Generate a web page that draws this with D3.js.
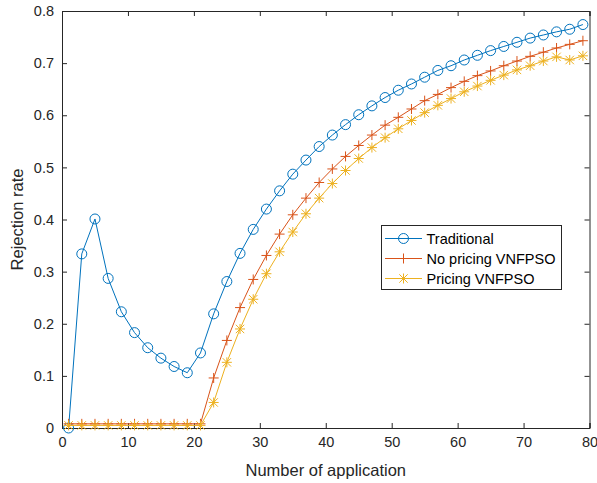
<!DOCTYPE html>
<html><head><meta charset="utf-8">
<script src="https://cdn.jsdelivr.net/npm/d3@7"></script>
<style>body{margin:0;background:#fff;} svg{display:block;}</style>
</head><body>
<svg id="chart" width="597" height="483"></svg>
<script>
const xValues = [1,3,5,7,9,11,13,15,17,19,21,23,25,27,29,31,33,35,37,39,41,43,45,47,49,51,53,55,57,59,61,63,65,67,69,71,73,75,77,79];
const traditional = [0.0,0.334,0.401,0.287,0.223,0.183,0.154,0.134,0.118,0.106,0.144,0.219,0.281,0.335,0.381,0.420,0.455,0.487,0.514,0.540,0.562,0.582,0.601,0.618,0.634,0.648,0.660,0.673,0.686,0.695,0.706,0.715,0.724,0.732,0.740,0.748,0.754,0.760,0.765,0.774];
const noPricing = [0.008,0.008,0.008,0.008,0.008,0.008,0.008,0.008,0.008,0.008,0.008,0.096,0.168,0.231,0.285,0.331,0.372,0.409,0.441,0.471,0.497,0.521,0.542,0.562,0.581,0.596,0.612,0.628,0.640,0.653,0.665,0.676,0.685,0.695,0.704,0.713,0.721,0.729,0.736,0.743];
const pricing = [0.005,0.005,0.005,0.005,0.005,0.005,0.005,0.005,0.005,0.005,0.005,0.049,0.126,0.190,0.247,0.296,0.338,0.376,0.411,0.441,0.469,0.494,0.517,0.538,0.557,0.574,0.590,0.605,0.619,0.632,0.645,0.656,0.667,0.677,0.687,0.695,0.704,0.712,0.706,0.714];
const seriesNames = ["Traditional","No pricing VNFPSO","Pricing VNFPSO"];
const xTicks = [0,10,20,30,40,50,60,70,80];
const yTicks = [0,0.1,0.2,0.3,0.4,0.5,0.6,0.7,0.8];
const xLabel = "Number of application";
const yLabel = "Rejection rate";

const colors = ["#0072BD","#D95319","#EDB120"];
const markers = ["circle","plus","star"];
const seriesData = [traditional, noPricing, pricing];

const svg = d3.select("#chart");
const L = 62, R = 589.5, T = 11, B = 428;
const x = d3.scaleLinear().domain([0,80]).range([L,R]);
const y = d3.scaleLinear().domain([0,0.8]).range([B,T]);
const axisColor = "#262626";
const font = "'Liberation Sans', Arial, Helvetica, sans-serif";

// axes with inward ticks
const gB = svg.append("g").attr("transform",`translate(0,${B})`)
  .call(d3.axisBottom(x).tickValues(xTicks).tickSize(-5).tickPadding(9).tickFormat(d3.format("d")));
const gT = svg.append("g").attr("transform",`translate(0,${T})`)
  .call(d3.axisTop(x).tickValues(xTicks).tickSize(-5).tickFormat(""));
const gLft = svg.append("g").attr("transform",`translate(${L},0)`)
  .call(d3.axisLeft(y).tickValues(yTicks).tickSize(-5).tickPadding(8).tickFormat(d => d===0 ? "0" : d3.format(".1f")(d)));
const gR = svg.append("g").attr("transform",`translate(${R},0)`)
  .call(d3.axisRight(y).tickValues(yTicks).tickSize(-5).tickFormat(""));
[gB,gT,gLft,gR].forEach(g => {
  g.select(".domain").attr("stroke",axisColor).attr("stroke-width",1);
  g.selectAll(".tick line").attr("stroke",axisColor);
  g.selectAll(".tick text").attr("fill",axisColor).style("font-family",font).style("font-size","14.5px");
});

// axis labels
svg.append("text").attr("x",(L+R)/2).attr("y",476).attr("text-anchor","middle")
  .style("font-family",font).style("font-size","16.5px").attr("fill",axisColor).text(xLabel);
svg.append("text").attr("transform",`translate(23,${(T+B)/2}) rotate(-90)`).attr("text-anchor","middle")
  .style("font-family",font).style("font-size","16.5px").attr("fill",axisColor).text(yLabel);

function drawMarker(g, type, cx, cy, color){
  if(type==="circle"){
    g.append("circle").attr("cx",cx).attr("cy",cy).attr("r",5).attr("fill","none").attr("stroke",color).attr("stroke-width",1);
  } else if(type==="plus"){
    g.append("path").attr("d",`M${cx-5},${cy}H${cx+5}M${cx},${cy-5}V${cy+5}`).attr("stroke",color).attr("stroke-width",1).attr("fill","none");
  } else {
    const d = 4.2;
    g.append("path").attr("d",`M${cx-5},${cy}H${cx+5}M${cx},${cy-5}V${cy+5}M${cx-d},${cy-d}L${cx+d},${cy+d}M${cx-d},${cy+d}L${cx+d},${cy-d}`)
      .attr("stroke",color).attr("stroke-width",1).attr("fill","none");
  }
}

const line = d3.line().x(d => x(d[0])).y(d => y(d[1]));
seriesData.forEach((vals,i) => {
  const pts = xValues.map((xv,j) => [xv, vals[j]]);
  const g = svg.append("g");
  g.append("path").datum(pts).attr("d",line).attr("fill","none").attr("stroke",colors[i]).attr("stroke-width",1);
  pts.forEach(p => drawMarker(g, markers[i], x(p[0]), y(p[1]), colors[i]));
});

// legend
const lg = svg.append("g");
lg.append("rect").attr("x",381.5).attr("y",225.5).attr("width",180).attr("height",64)
  .attr("fill","#fff").attr("stroke",axisColor).attr("stroke-width",1);
const rowsY = [238.5, 258.5, 278.5];
seriesNames.forEach((name,i) => {
  lg.append("line").attr("x1",385).attr("x2",422).attr("y1",rowsY[i]).attr("y2",rowsY[i]).attr("stroke",colors[i]).attr("stroke-width",1);
  drawMarker(lg, markers[i], 403.5, rowsY[i], colors[i]);
  lg.append("text").attr("x",426.5).attr("y",rowsY[i]).attr("dy","0.35em")
    .style("font-family",font).style("font-size","14.5px").attr("fill","#000").text(name);
});
</script>
</body></html>
